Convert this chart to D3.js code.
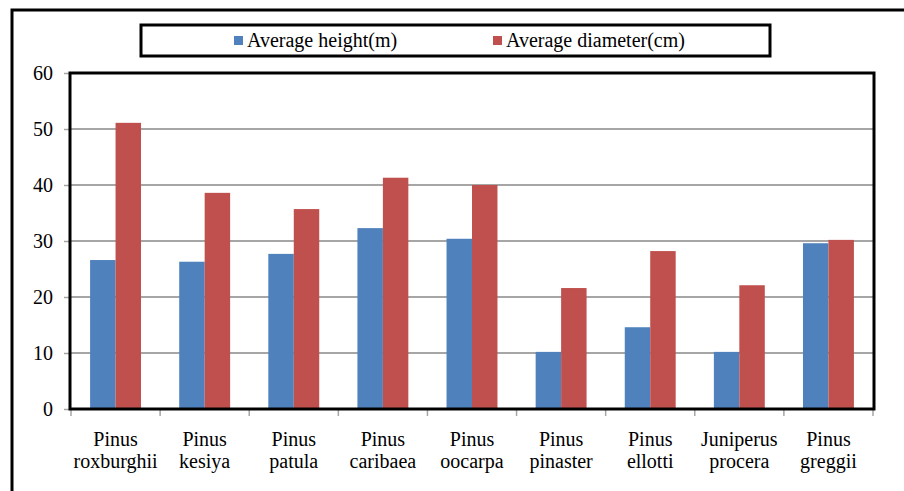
<!DOCTYPE html>
<html>
<head>
<meta charset="utf-8">
<script src="https://cdn.jsdelivr.net/npm/d3@7"></script>
<style>
  body { margin: 0; background: #fff; }
  svg text { font-family: "Liberation Serif", "Times New Roman", serif !important; }
</style>
</head>
<body>
<svg width="904" height="491"></svg>
<script>
const species = [
    ["Pinus", "roxburghii"], ["Pinus", "kesiya"], ["Pinus", "patula"],
    ["Pinus", "caribaea"], ["Pinus", "oocarpa"], ["Pinus", "pinaster"],
    ["Pinus", "ellotti"], ["Juniperus", "procera"], ["Pinus", "greggii"]
];
const seriesNames = ["Average height(m)", "Average diameter(cm)"];
const avgHeight = [26.6, 26.3, 27.7, 32.3, 30.4, 10.2, 14.6, 10.2, 29.6];
const avgDiameter = [51.1, 38.6, 35.7, 41.3, 40.0, 21.6, 28.2, 22.1, 30.2];
const yTicks = [0, 10, 20, 30, 40, 50, 60];
const colors = ["#4f81bd", "#c0504d"];

const width = 904;
const height = 491;
const plot = { left: 71, right: 873, top: 73, bottom: 409 };
const serif = "'Liberation Serif', 'Times New Roman', serif";

const svg = d3.select("svg");

// outer frame (runs off the right and bottom edge)
svg.append("rect")
    .attr("x", 12).attr("y", 10)
    .attr("width", width + 20).attr("height", height + 20)
    .attr("fill", "none").attr("stroke", "#000").attr("stroke-width", 3);

const names = species.map(d => d.join(" "));
const rows = names.map((n, i) => ({ name: n, label: species[i], values: [avgHeight[i], avgDiameter[i]] }));

const x0 = d3.scaleBand()
    .domain(names)
    .range([plot.left, plot.right])
    .padding(0);

const x1 = d3.scaleBand()
    .domain(seriesNames)
    .range([0, x0.bandwidth()])
    .paddingInner(0)
    .paddingOuter(0.75);

const y = d3.scaleLinear()
    .domain([0, 60])
    .range([plot.bottom, plot.top]);

// gridlines
svg.append("g")
    .selectAll("line")
    .data(yTicks.filter(t => t > 0 && t < 60))
    .enter().append("line")
    .attr("x1", plot.left).attr("x2", plot.right)
    .attr("y1", d => y(d)).attr("y2", d => y(d))
    .attr("stroke", "#a6a6a6").attr("stroke-width", 2);

// y axis ticks and labels
const yAxis = svg.append("g")
    .attr("transform", `translate(${plot.left - 1},0)`)
    .call(d3.axisLeft(y).tickValues(yTicks).tickSize(6).tickFormat(d3.format("d")));
yAxis.attr("font-family", null);
yAxis.select(".domain").remove();
yAxis.selectAll(".tick line").attr("stroke", "#a6a6a6").attr("stroke-width", 1.5);
yAxis.selectAll(".tick text")
    .attr("x", -17)
    .style("font-family", serif)
    .attr("font-size", 20).attr("fill", "#000");

// bars
const groups = svg.append("g")
    .selectAll("g")
    .data(rows)
    .enter().append("g")
    .attr("transform", d => `translate(${x0(d.name)},0)`);

groups.selectAll("rect")
    .data(d => d.values.map((v, i) => ({ key: seriesNames[i], value: v, i })))
    .enter().append("rect")
    .attr("x", d => x1(d.key))
    .attr("y", d => y(d.value))
    .attr("width", x1.bandwidth())
    .attr("height", d => y(0) - y(d.value))
    .attr("fill", d => colors[d.i]);

// x ticks at category boundaries
const bounds = names.map(n => x0(n)).concat([plot.right]);
svg.append("g")
    .selectAll("line")
    .data(bounds)
    .enter().append("line")
    .attr("x1", d => d).attr("x2", d => d)
    .attr("y1", plot.bottom).attr("y2", plot.bottom + 7)
    .attr("stroke", "#a6a6a6").attr("stroke-width", 1.5);

// plot area border
svg.append("rect")
    .attr("x", plot.left - 1).attr("y", plot.top)
    .attr("width", plot.right - plot.left + 2).attr("height", plot.bottom - plot.top)
    .attr("fill", "none").attr("stroke", "#000").attr("stroke-width", 3);

// category labels
const labels = svg.append("g")
    .selectAll("text")
    .data(rows)
    .enter().append("text")
    .attr("text-anchor", "middle")
    .style("font-family", serif)
    .attr("font-size", 20)
    .attr("fill", "#000");
labels.selectAll("tspan")
    .data(d => d.label.map(t => ({ t, x: x0(d.name) + x0.bandwidth() / 2 })))
    .enter().append("tspan")
    .attr("x", d => d.x)
    .attr("y", (d, i) => 446 + i * 22)
    .text(d => d.t);

// legend
svg.append("rect")
    .attr("x", 141).attr("y", 25)
    .attr("width", 629).attr("height", 31)
    .attr("fill", "#fff").attr("stroke", "#000").attr("stroke-width", 3);

const legendX = [234, 493];
const legend = svg.append("g")
    .selectAll("g")
    .data(seriesNames)
    .enter().append("g")
    .attr("transform", (d, i) => `translate(${legendX[i]},0)`);
legend.append("rect")
    .attr("x", 0).attr("y", 36)
    .attr("width", 9).attr("height", 9)
    .attr("fill", (d, i) => colors[i]);
legend.append("text")
    .attr("x", 13).attr("y", 47)
    .style("font-family", serif)
    .attr("font-size", 20)
    .attr("fill", "#000")
    .text(d => d);
</script>
</body>
</html>
